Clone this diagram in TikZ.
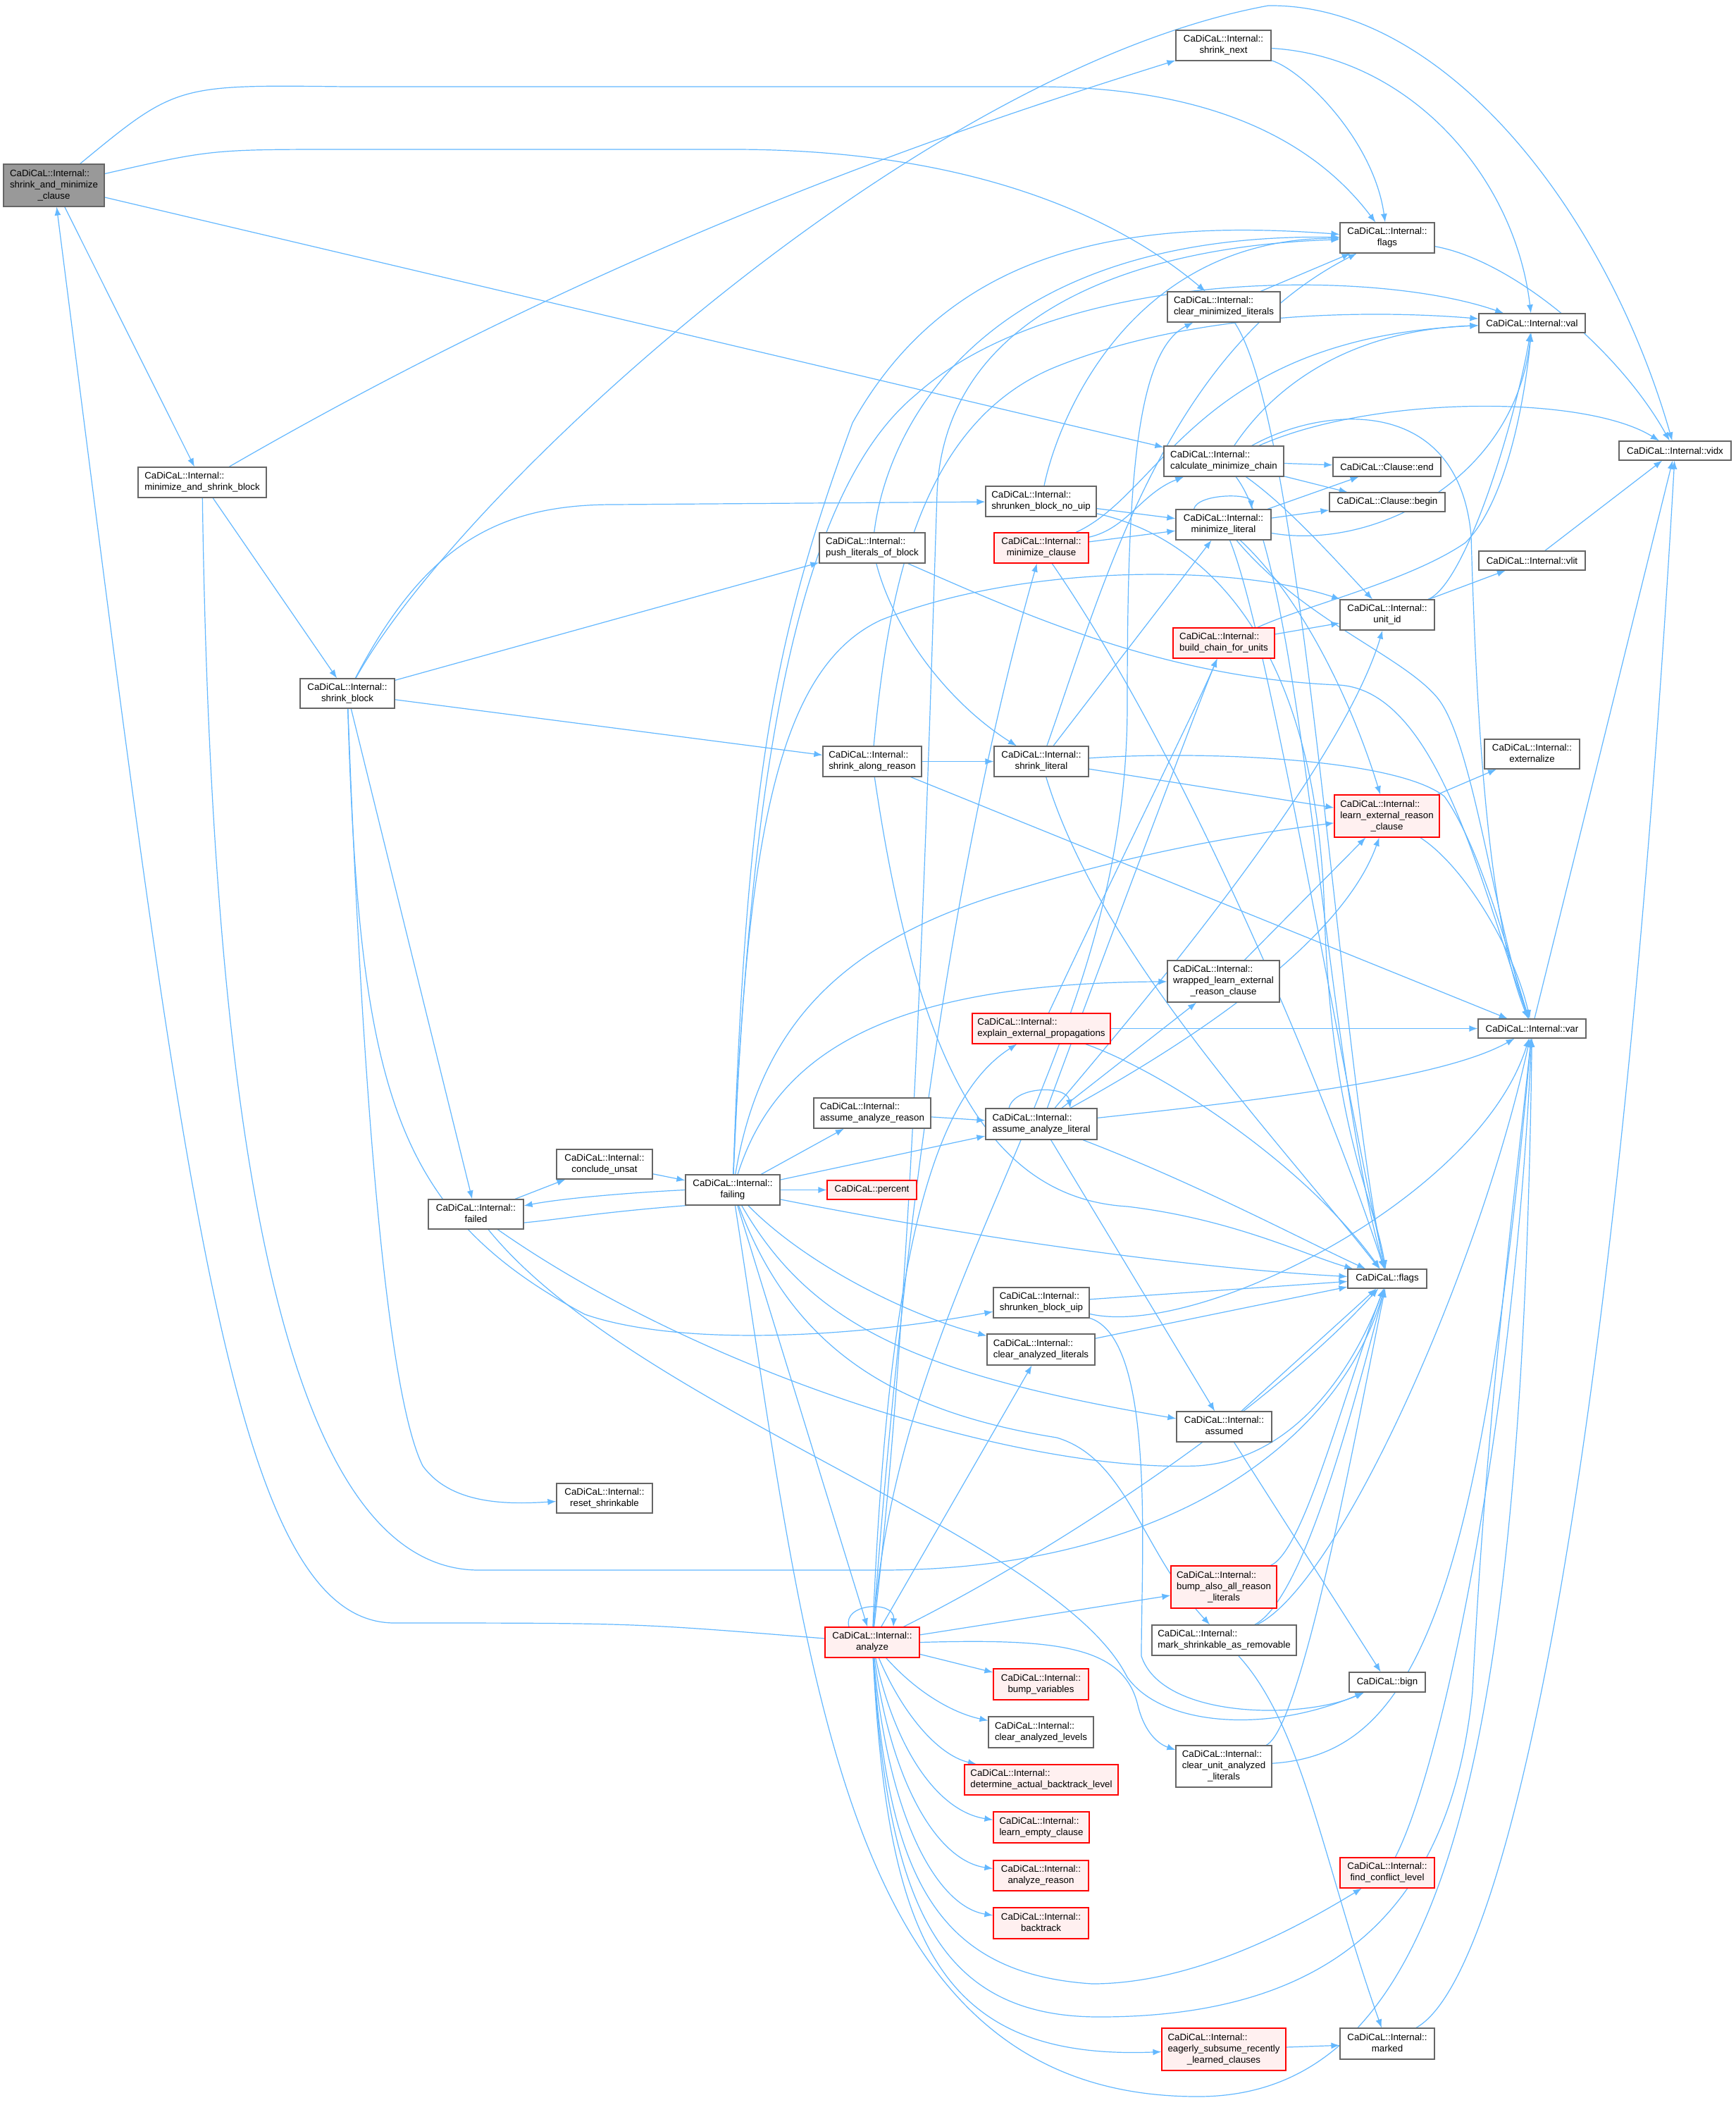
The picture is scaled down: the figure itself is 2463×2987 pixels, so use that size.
\documentclass[tikz,border=0pt]{standalone}
\usepackage{fontspec}
\setmainfont{Liberation Sans}
\usetikzlibrary{arrows.meta}
\definecolor{edgec}{HTML}{63B8FF}
\definecolor{nodegray}{HTML}{666666}
\definecolor{rootfill}{HTML}{999999}
\definecolor{redfill}{HTML}{FFF0F0}
\definecolor{reddraw}{HTML}{FF0000}
\newcommand{\CI}{CaDiCaL::Internal::}
\newcommand{\twoL}[2]{\begin{tabular}{@{}l@{}}#1\\\multicolumn{1}{@{}c@{}}{#2}\end{tabular}}
\newcommand{\threeL}[3]{\begin{tabular}{@{}l@{}}#1\\#2\\\multicolumn{1}{@{}c@{}}{#3}\end{tabular}}
\newcommand{\nd}[7]{\node[#1, minimum width=#5pt, minimum height=#6pt] (#2) at (#3,#4) {#7};}
\pgfdeclarelayer{back}
\pgfdeclarelayer{bg}
\pgfsetlayers{back,bg,main}
\begin{document}
\begin{tikzpicture}[x=0.5pt,y=-0.5pt,
  nb/.style={draw=nodegray, fill=white, line width=0.6pt, inner sep=0pt, font=\fontsize{6.65}{8}\selectfont},
  rnode/.style={nb, draw=reddraw, fill=redfill},
  gnode/.style={nb, fill=rootfill},
  cn/.style={draw=edgec, line width=0.6pt, -{Latex[length=6pt,width=4.5pt]}}]
\begin{pgfonlayer}{back}
\fill[white] (0,0) rectangle (2463,2987);
\end{pgfonlayer}
\useasboundingbox (0,0) rectangle (2463,2987);

\nd{gnode}{root}{76.5}{263}{71.5}{30}{\threeL{\CI}{shrink\_and\_minimize}{\_clause}}
\nd{nb}{msb}{287}{684.5}{91}{21.5}{\twoL{\CI}{minimize\_and\_shrink\_block}}
\nd{nb}{sblock}{493}{984}{67}{21}{\twoL{\CI}{shrink\_block}}
\nd{nb}{failed}{675.5}{1723}{67.5}{21}{\twoL{\CI}{failed}}
\nd{nb}{concl}{858}{1652}{68}{21}{\twoL{\CI}{conclude\_unsat}}
\nd{nb}{failing}{1040}{1688.5}{67}{21.5}{\twoL{\CI}{failing}}
\nd{nb}{reset}{858}{2126}{68}{21}{\twoL{\CI}{reset\_shrinkable}}
\nd{rnode}{analyze}{1238}{2330.5}{67}{21.5}{\twoL{\CI}{analyze}}
\nd{nb}{snext}{1736.5}{64.5}{67.5}{21.5}{\twoL{\CI}{shrink\_next}}
\nd{nb}{iflags}{1969}{337.5}{67}{21.5}{\twoL{\CI}{flags}}
\nd{nb}{cml}{1737}{435.5}{80}{21.5}{\twoL{\CI}{clear\_minimized\_literals}}
\nd{nb}{val}{2174.5}{458.5}{75.5}{13.5}{CaDiCaL::Internal::val}
\nd{nb}{vidx}{2377.5}{639.5}{79.5}{13.5}{CaDiCaL::Internal::vidx}
\nd{nb}{cmc}{1737}{654.5}{85}{21.5}{\twoL{\CI}{calculate\_minimize\_chain}}
\nd{nb}{cend}{1968.5}{662.5}{76.5}{13.5}{CaDiCaL::Clause::end}
\nd{nb}{cbegin}{1969}{712.5}{82}{13.5}{CaDiCaL::Clause::begin}
\nd{nb}{sbnu}{1477.5}{711.5}{78.5}{21.5}{\twoL{\CI}{shrunken\_block\_no\_uip}}
\nd{nb}{mlit}{1736.5}{744.5}{67.5}{21.5}{\twoL{\CI}{minimize\_literal}}
\nd{rnode}{mclause}{1478}{777.5}{67}{21.5}{\twoL{\CI}{minimize\_clause}}
\nd{nb}{plob}{1238}{777.5}{75}{21.5}{\twoL{\CI}{push\_literals\_of\_block}}
\nd{nb}{vlit}{2174.5}{795.5}{75.5}{13.5}{CaDiCaL::Internal::vlit}
\nd{nb}{unitid}{1969}{872.5}{67}{21.5}{\twoL{\CI}{unit\_id}}
\nd{rnode}{bcfu}{1737}{912.5}{72}{21.5}{\twoL{\CI}{build\_chain\_for\_units}}
\nd{nb}{extz}{2174.5}{1070}{67.5}{21}{\twoL{\CI}{externalize}}
\nd{nb}{sar}{1238}{1080.5}{70}{21.5}{\twoL{\CI}{shrink\_along\_reason}}
\nd{nb}{slit}{1478}{1080.5}{67}{21.5}{\twoL{\CI}{shrink\_literal}}
\nd{rnode}{lerc}{1968.5}{1158}{74.5}{30}{\threeL{\CI}{learn\_external\_reason}{\_clause}}
\nd{nb}{wlerc}{1736.5}{1392.5}{79.5}{29.5}{\threeL{\CI}{wrapped\_learn\_external}{\_reason\_clause}}
\nd{rnode}{eep}{1478}{1459.5}{98}{21.5}{\twoL{\CI}{explain\_external\_propagations}}
\nd{nb}{var}{2174.5}{1459.5}{76.5}{13.5}{CaDiCaL::Internal::var}
\nd{nb}{aar}{1238}{1579.5}{83}{21.5}{\twoL{\CI}{assume\_analyze\_reason}}
\nd{nb}{aal}{1478}{1595}{79}{22}{\twoL{\CI}{assume\_analyze\_literal}}
\nd{rnode}{percent}{1237.5}{1688.5}{63.5}{13.5}{CaDiCaL::percent}
\nd{nb}{cflags}{1969}{1814.5}{56}{13.5}{CaDiCaL::flags}
\nd{nb}{sbu}{1478}{1848.5}{68}{21.5}{\twoL{\CI}{shrunken\_block\_uip}}
\nd{nb}{cal}{1477.5}{1915}{76.5}{22}{\twoL{\CI}{clear\_analyzed\_literals}}
\nd{nb}{assumed}{1737.5}{2024.5}{67.5}{21.5}{\twoL{\CI}{assumed}}
\nd{rnode}{baarl}{1737}{2252}{75}{30}{\threeL{\CI}{bump\_also\_all\_reason}{\_literals}}
\nd{nb}{msar}{1737.5}{2327.5}{102.5}{21.5}{\twoL{\CI}{mark\_shrinkable\_as\_removable}}
\nd{nb}{bign}{1969}{2387}{54}{14}{CaDiCaL::bign}
\nd{rnode}{bumpv}{1477.5}{2390}{67.5}{22}{\twoL{\CI}{bump\_variables}}
\nd{nb}{cale}{1477.5}{2458}{74.5}{22}{\twoL{\CI}{clear\_analyzed\_levels}}
\nd{nb}{cual}{1737}{2506.5}{68}{29.5}{\threeL{\CI}{clear\_unit\_analyzed}{\_literals}}
\nd{rnode}{dabl}{1478}{2525.5}{109}{21.5}{\twoL{\CI}{determine\_actual\_backtrack\_level}}
\nd{rnode}{lec}{1478}{2593}{68}{22}{\twoL{\CI}{learn\_empty\_clause}}
\nd{rnode}{fcl}{1969}{2657.5}{67}{21.5}{\twoL{\CI}{find\_conflict\_level}}
\nd{rnode}{areason}{1477.5}{2661.5}{67.5}{21.5}{\twoL{\CI}{analyze\_reason}}
\nd{rnode}{backtrack}{1477.5}{2729}{67.5}{22}{\twoL{\CI}{backtrack}}
\nd{rnode}{esrlc}{1737}{2908}{88}{30}{\threeL{\CI}{eagerly\_subsume\_recently}{\_learned\_clauses}}
\nd{nb}{marked}{1969}{2900}{67}{22}{\twoL{\CI}{marked}}

\begin{pgfonlayer}{bg}
% root
\draw[cn] (root) -- (msb);
\draw[cn] (root) -- (cmc);
\draw[cn] (root) .. controls (250,120) .. (490,123) -- (1470,123) .. controls (1750,123) and (1880,220) .. (iflags);
\draw[cn] (root) .. controls (300,212) .. (490,212) -- (1040,212) .. controls (1400,212) and (1600,320) .. (cml);
\draw[cn] (analyze) .. controls (900,2303) .. (560,2303) .. controls (330,2303) and (260,1700) .. (root);
% msb
\draw[cn] (msb) -- (sblock);
\draw[cn] (msb) .. controls (900,330) and (1400,170) .. (snext);
\draw[cn] (msb) .. controls (300,1600) and (400,2228) .. (680,2228) -- (1250,2228) .. controls (1650,2228) and (1900,2050) .. (cflags);
% sblock
\draw[cn] (sblock) -- (plob);
\draw[cn] (sblock) -- (sar);
\draw[cn] (sblock) .. controls (600,780) and (700,716) .. (870,716) -- (sbnu);
\draw[cn] (sblock) .. controls (650,700) and (1300,100) .. (1800,8) .. controls (2050,5) and (2280,300) .. (vidx);
\draw[cn] (sblock) -- (failed);
\draw[cn] (sblock) .. controls (520,1700) and (560,2000) .. (600,2080) .. controls (640,2135) and (720,2135) .. (reset);
\draw[cn] (sblock) .. controls (510,1550) and (560,1720) .. (830,1865) .. controls (960,1910) and (1200,1900) .. (sbu);
% failed
\draw[cn] (failed) -- (concl);
\draw[cn] (failing.west) .. controls (900,1692) and (800,1700) .. (failed.10);
\draw[cn] (failed.-10) .. controls (800,1730) and (900,1712) .. (failing.-12);
\draw[cn] (failed) .. controls (1000,1950) and (1450,2090) .. (1700,2080) .. controls (1850,2070) and (1930,1920) .. (cflags);
\draw[cn] (failed) .. controls (900,2000) and (1500,2180) .. (1600,2380) .. controls (1650,2450) and (1800,2460) .. (bign);
\draw[cn] (concl) -- (failing);
% failing
\draw[cn] (failing) -- (percent);
\draw[cn] (failing) -- (aar);
\draw[cn] (failing) -- (aal);
\draw[cn] (failing) .. controls (1150,1800) and (1300,1870) .. (cal);
\draw[cn] (failing) .. controls (1150,1880) and (1300,1950) .. (assumed);
\draw[cn] (failing) .. controls (1120,1900) and (1250,2000) .. (1500,2040) .. controls (1600,2070) and (1620,2200) .. (msar);
\draw[cn] (failing) .. controls (1400,1760) and (1700,1800) .. (cflags);
\draw[cn] (failing) -- (analyze);
\draw[cn] (failing) .. controls (1150,2400) and (1200,2975) .. (1700,2975) .. controls (2050,2975) and (2160,2500) .. (var);
\draw[cn] (failing) .. controls (1060,1100) and (1100,900) .. (1210,600) .. controls (1350,350) and (1600,310) .. (iflags);
\draw[cn] (failing) .. controls (1065,1100) and (1130,700) .. (1300,560) .. controls (1500,380) and (1950,380) .. (val);
\draw[cn] (failing) .. controls (1060,1200) and (1100,950) .. (1250,880) .. controls (1450,800) and (1750,800) .. (unitid);
\draw[cn] (failing) .. controls (1080,1450) and (1200,1330) .. (1450,1260) .. controls (1650,1200) and (1800,1180) .. (lerc);
\draw[cn] (failing) .. controls (1100,1500) and (1250,1395) .. (wlerc);
% analyze
\draw[cn] ([xshift=-16.5pt]analyze.north) .. controls (1195,2275) and (1270,2270) .. ([xshift=15pt]analyze.north);
\draw[cn] (analyze) -- (baarl);
\draw[cn] (analyze) -- (bumpv);
\draw[cn] (analyze) .. controls (1300,2400) and (1350,2430) .. (cale);
\draw[cn] (analyze) .. controls (1280,2430) and (1330,2490) .. (dabl);
\draw[cn] (analyze) .. controls (1270,2480) and (1330,2570) .. (lec);
\draw[cn] (analyze) .. controls (1265,2530) and (1330,2640) .. (areason);
\draw[cn] (analyze) .. controls (1260,2580) and (1330,2705) .. (backtrack);
\draw[cn] (analyze.east) .. controls (1500,2325) and (1595,2335) .. (1615,2420) .. controls (1625,2460) and (1645,2475) .. (cual);
\draw[cn] (analyze) .. controls (1260,2650) and (1320,2800) .. (1550,2815) .. controls (1700,2815) and (1850,2730) .. (fcl);
\draw[cn] (analyze) .. controls (1260,2700) and (1330,2862) .. (1560,2862) .. controls (1900,2862) and (2060,2700) .. (2090,2400) .. controls (2110,2000) and (2150,1700) .. (var);
\draw[cn] (analyze) .. controls (1260,2750) and (1330,2924) .. (esrlc);
\draw[cn] (analyze) .. controls (1270,1900) and (1330,1300) .. (mclause);
\draw[cn] (analyze) .. controls (1260,1800) and (1320,1560) .. (eep);
\draw[cn] (analyze) -- (cal);
\draw[cn] (analyze) .. controls (1280,1800) and (1600,1500) .. (1600,1000) .. controls (1600,700) and (1610,500) .. (cml);
\draw[cn] (analyze) .. controls (1300,1800) and (1320,1000) .. (1330,700) .. controls (1340,450) and (1600,350) .. (iflags);
\draw[cn] (analyze) .. controls (1500,2200) and (1800,2000) .. (cflags);
% eep
\draw[cn] (eep) -- (var);
\draw[cn] (eep) .. controls (1600,1200) and (1700,1000) .. (bcfu);
\draw[cn] (eep) .. controls (1650,1520) and (1850,1650) .. (cflags);
% aar, aal
\draw[cn] (aar) -- (aal);
\draw[cn] ([xshift=-23pt]aal.north) .. controls (1440,1540) and (1515,1540) .. ([xshift=20.5pt]aal.north);
\draw[cn] (aal) -- (wlerc);
\draw[cn] (aal) .. controls (1800,1560) and (2050,1530) .. (var);
\draw[cn] (aal) .. controls (1700,1680) and (1850,1760) .. (cflags);
\draw[cn] (aal) -- (assumed);
\draw[cn] (aal) .. controls (1650,1500) and (1900,1350) .. (lerc);
\draw[cn] (aal) .. controls (1600,1450) and (1900,1100) .. (unitid);
\draw[cn] (aal) .. controls (1550,1400) and (1700,1000) .. (bcfu);
% wlerc, lerc
\draw[cn] (wlerc) -- (lerc);
\draw[cn] (lerc) -- (extz);
\draw[cn] (lerc) .. controls (2080,1230) and (2150,1350) .. (var);
% slit
\draw[cn] (slit) -- (mlit);
\draw[cn] (slit) .. controls (1700,1065) and (1980,1075) .. (2050,1130) .. controls (2100,1200) and (2140,1350) .. (var);
\draw[cn] (slit) -- (lerc);
\draw[cn] (slit) .. controls (1560,1350) and (1800,1600) .. (cflags);
\draw[cn] (slit) .. controls (1560,850) and (1650,500) .. (iflags);
% sar
\draw[cn] (sar) -- (slit);
\draw[cn] (sar) -- (var);
\draw[cn] (sar) .. controls (1300,1500) and (1400,1700) .. (1600,1712) .. controls (1750,1730) and (1850,1780) .. (cflags);
\draw[cn] (sar) .. controls (1260,850) and (1300,600) .. (1500,520) .. controls (1700,440) and (1950,440) .. (val);
% plob
\draw[cn] (plob) .. controls (1270,900) and (1350,1000) .. (slit);
\draw[cn] (plob) .. controls (1450,870) and (1650,962) .. (1900,972) .. controls (2040,980) and (2100,1250) .. (var);
\draw[cn] (plob) .. controls (1260,600) and (1400,330) .. (iflags);
% sbnu
\draw[cn] (sbnu) -- (mlit);
\draw[cn] (sbnu) .. controls (1500,600) and (1600,340) .. (iflags);
\draw[cn] (sbnu) .. controls (1700,760) and (1870,900) .. (1880,1300) .. controls (1890,1600) and (1950,1700) .. (cflags);
% mclause
\draw[cn] (mclause) -- (mlit);
\draw[cn] (mclause) .. controls (1600,750) and (1620,700) .. (cmc);
\draw[cn] (mclause) .. controls (1650,700) and (1700,480) .. (val);
\draw[cn] (mclause) .. controls (1700,1100) and (1900,1600) .. (cflags);
% mlit
\draw[cn] ([xshift=-21pt]mlit.north) .. controls (1700,700) and (1775,700) .. ([xshift=20pt]mlit.north);
\draw[cn] (mlit) -- (cend);
\draw[cn] (mlit) -- (cbegin);
\draw[cn] (mlit) .. controls (1950,782) and (2150,680) .. (val);
\draw[cn] (mlit) .. controls (1850,850) and (1920,1000) .. (lerc);
\draw[cn] (mlit) .. controls (1800,900) and (1900,1500) .. (cflags);
\draw[cn] (mlit) .. controls (1850,880) and (1990,930) .. (2040,990) .. controls (2090,1050) and (2120,1300) .. (var);
% cmc
\draw[cn] (cmc) -- (cend);
\draw[cn] (cmc) -- (cbegin);
\draw[cn] (cmc) .. controls (1950,560) and (2250,560) .. (vidx);
\draw[cn] (cmc) .. controls (1830,720) and (1900,800) .. (unitid);
\draw[cn] (cmc) .. controls (1800,560) and (1900,470) .. (val);
\draw[cn] (cmc) .. controls (1850,800) and (1880,1500) .. (cflags);
\draw[cn] (cmc) .. controls (1880,575) and (2070,560) .. (2088,760) .. controls (2095,1000) and (2110,1300) .. (var);
% cml
\draw[cn] (cml) -- (iflags);
\draw[cn] (cml) .. controls (1850,600) and (1900,1500) .. (cflags);
% snext
\draw[cn] (snext) .. controls (1850,100) and (1950,200) .. (iflags);
\draw[cn] (snext) .. controls (2000,80) and (2150,250) .. (val);
% misc
\draw[cn] (iflags) .. controls (2150,370) and (2300,500) .. (vidx);
\draw[cn] (unitid) -- (vlit);
\draw[cn] (unitid) .. controls (2080,830) and (2150,600) .. (val);
\draw[cn] (vlit) -- (vidx);
\draw[cn] (var) -- (vidx);
\draw[cn] (bcfu) -- (unitid);
\draw[cn] (bcfu) .. controls (1850,860) and (2000,825) .. (2080,770) .. controls (2140,710) and (2165,560) .. (val);
% sbu
\draw[cn] (sbu) -- (cflags);
\draw[cn] (sbu) .. controls (1700,1900) and (2100,1700) .. (var);
\draw[cn] (sbu) .. controls (1640,1900) and (1620,2200) .. (1620,2350) .. controls (1650,2440) and (1850,2440) .. (bign);
\draw[cn] (cal) -- (cflags);
\draw[cn] (assumed) -- (cflags);
\draw[cn] (assumed) -- (bign);
\draw[cn] (baarl) .. controls (1850,2200) and (1900,2000) .. (cflags);
\draw[cn] (msar) .. controls (1850,2270) and (1920,2000) .. (cflags);
\draw[cn] (msar) .. controls (1900,2250) and (2100,1800) .. (var);
\draw[cn] (msar) .. controls (1850,2450) and (1880,2650) .. (marked);
\draw[cn] (cual) .. controls (1850,2450) and (1930,2000) .. (cflags);
\draw[cn] (cual) .. controls (2000,2490) and (2100,2300) .. (var);
\draw[cn] (fcl) .. controls (2050,2500) and (2150,2000) .. (var);
\draw[cn] (esrlc) -- (marked);
\draw[cn] (marked) .. controls (2150,2800) and (2300,2000) .. (vidx);
\end{pgfonlayer}
\end{tikzpicture}
\end{document}
